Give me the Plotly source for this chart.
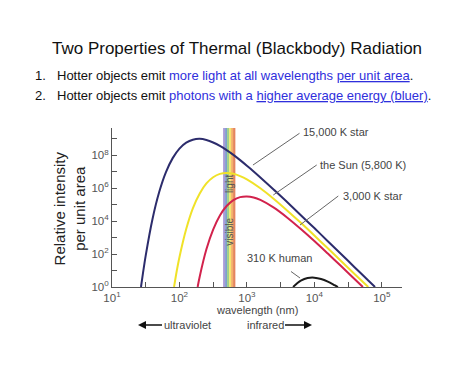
import plotly.graph_objects as go

# ---------------- data ----------------
# wavelengths in nm, intensities as log10(relative intensity)
wl_15000 = [26.9, 28.8, 31.6, 39.8, 50.1, 63.1, 79.4, 100, 126, 158, 200, 251, 316, 398,
            501, 631, 794, 1000, 1259, 1585, 2512, 3981, 6310, 10000, 15849, 25119,
            39811, 63096, 79433]
li_15000 = [0.0, 0.84, 1.91, 4.12, 5.77, 6.98, 7.83, 8.41, 8.77, 8.95, 9.00, 8.93, 8.78, 8.575,
            8.32, 8.03, 7.71, 7.37, 7.02, 6.66, 5.91, 5.15, 4.36, 3.58, 2.78, 1.99,
            1.19, 0.40, 0.0]

wl_5800 = [83.2, 91.2, 100, 126, 158, 200, 251, 316, 398, 501, 631, 794, 1000, 1585,
           2512, 3981, 6310, 10000, 15849, 25119, 39811, 63096]
li_5800 = [0.0, 0.97, 1.81, 3.52, 4.78, 5.68, 6.29, 6.67, 6.875, 6.93, 6.88, 6.74, 6.54, 6.00,
           5.35, 4.64, 3.90, 3.13, 2.35, 1.56, 0.77, 0.0]

wl_3000 = [186.2, 200, 251, 316, 398, 501, 631, 794, 1000, 1259, 1585, 2512, 3981, 6310,
           10000, 15849, 25119, 39811, 52481]
li_3000 = [0.0, 0.64, 2.29, 3.49, 4.35, 4.92, 5.28, 5.46, 5.50, 5.44, 5.29, 4.82, 4.21, 3.52,
           2.79, 2.03, 1.26, 0.47, 0.0]

wl_310 = [4842, 5623, 6310, 7943, 10000, 12589, 15849, 19953, 22387]
li_310 = [0.0, 0.245, 0.386, 0.544, 0.568, 0.49, 0.332, 0.114, 0.0]

# visible band stripes (nm edges) and colours
visible_edges = [444, 475, 508, 545, 583, 624, 675]
visible_colors = ["#ab9bd8", "#7f9ecd", "#9fd089", "#f3e56e", "#f3b06a", "#e5855d"]

x_tick_vals = [10, 100, 1000, 10000, 100000]
x_tick_text = ["10<sup>1</sup>", "10<sup>2</sup>", "10<sup>3</sup>", "10<sup>4</sup>", "10<sup>5</sup>"]
x_minor_vals = [31.62, 316.2, 3162, 31623]
y_tick_vals = [1, 1e2, 1e4, 1e6, 1e8]
y_tick_text = ["10<sup>0</sup>", "10<sup>2</sup>", "10<sup>4</sup>", "10<sup>6</sup>", "10<sup>8</sup>"]
y_minor_vals = [1e1, 1e3, 1e5, 1e7, 1e9]

series = [
    ("15,000 K star", wl_15000, li_15000, "#2c2c6c"),
    ("the Sun (5,800 K)", wl_5800, li_5800, "#f0e228"),
    ("3,000 K star", wl_3000, li_3000, "#d2224c"),
    ("310 K human", wl_310, li_310, "#1a1a1a"),
]

FONT = "Liberation Sans, Arial, Helvetica, sans-serif"
BLUE = "#2f2fdc"

fig = go.Figure()
for name, wl, li, col in series:
    fig.add_trace(go.Scatter(
        x=wl, y=[10 ** v for v in li], mode="lines", name=name,
        line=dict(color=col, width=2, shape="spline", smoothing=0.8),
        hoverinfo="skip", showlegend=False))

shapes = []
for i, col in enumerate(visible_colors):
    shapes.append(dict(type="rect", xref="x", yref="paper",
                       x0=visible_edges[i], x1=visible_edges[i + 1], y0=0, y1=1,
                       fillcolor=col, line=dict(width=0), layer="below"))

# leader lines (paper coords)
leaders = [
    (0.486, 0.767, 0.6466, 0.9667),
    (0.5562, 0.5786, 0.7059, 0.7673),
    (0.6483, 0.3899, 0.7803, 0.5723),
    (0.6172, 0.0975, 0.6483, 0.0566),
]
for x0, y0, x1, y1 in leaders:
    shapes.append(dict(type="line", xref="paper", yref="paper", x0=x0, y0=y0, x1=x1, y1=y1,
                       line=dict(color="#666666", width=1)))

ann = []
ann.append(dict(text="Two Properties of Thermal (Blackbody) Radiation", xref="paper", yref="paper",
                x=0.431, y=1.503, showarrow=False, font=dict(size=17, color="#111111"),
                xanchor="center", yanchor="middle"))
ann.append(dict(text="1.", xref="paper", yref="paper", x=-0.272, y=1.333, showarrow=False,
                font=dict(size=13, color="#111111"), xanchor="left", yanchor="middle"))
ann.append(dict(text="Hotter objects emit <span style='color:%s'>more light at all wavelengths</span> "
                     "<span style='color:%s'><u>per unit area</u></span>." % (BLUE, BLUE),
                xref="paper", yref="paper", x=-0.197, y=1.333, showarrow=False,
                font=dict(size=13, color="#111111"), xanchor="left", yanchor="middle"))
ann.append(dict(text="2.", xref="paper", yref="paper", x=-0.272, y=1.2075, showarrow=False,
                font=dict(size=13, color="#111111"), xanchor="left", yanchor="middle"))
ann.append(dict(text="Hotter objects emit <span style='color:%s'>photons with a</span> "
                     "<span style='color:%s'><u>higher average energy (bluer)</u></span>." % (BLUE, BLUE),
                xref="paper", yref="paper", x=-0.197, y=1.2075, showarrow=False,
                font=dict(size=13, color="#111111"), xanchor="left", yanchor="middle"))
ann.append(dict(text="Relative intensity<br>per unit area", xref="paper", yref="paper",
                x=-0.145, y=0.494, showarrow=False, textangle=-90,
                font=dict(size=15, color="#222222"), xanchor="center", yanchor="middle"))
ann.append(dict(text="wavelength (nm)", xref="paper", yref="paper", x=0.5, y=-0.145,
                showarrow=False, font=dict(size=11, color="#444444"), xanchor="center", yanchor="middle"))
ann.append(dict(text="ultraviolet", xref="paper", yref="paper", x=0.0897, y=-0.239,
                ax=49, ay=0, axref="pixel", ayref="pixel", showarrow=True, arrowhead=2,
                arrowsize=1, arrowwidth=1.6, arrowcolor="#111111", standoff=0,
                font=dict(size=11, color="#444444")))
ann.append(dict(text="infrared", xref="paper", yref="paper", x=0.6897, y=-0.239,
                ax=-47, ay=0, axref="pixel", ayref="pixel", showarrow=True, arrowhead=2,
                arrowsize=1, arrowwidth=1.6, arrowcolor="#111111", standoff=0,
                font=dict(size=11, color="#444444")))
labels = [
    ("15,000 K star", 0.652, 0.975),
    ("the Sun (5,800 K)", 0.710, 0.767),
    ("3,000 K star", 0.790, 0.572),
    ("310 K human", 0.459, 0.182),
]
for t, x, y in labels:
    ann.append(dict(text=t, xref="paper", yref="paper", x=x, y=y, showarrow=False,
                    font=dict(size=11, color="#444444"), xanchor="left", yanchor="middle"))
ann.append(dict(text="light", xref="paper", yref="paper", x=0.405, y=0.65, showarrow=False,
                textangle=-90, font=dict(size=10, color="#555555")))
ann.append(dict(text="visible", xref="paper", yref="paper", x=0.405, y=0.25, showarrow=False,
                textangle=-90, font=dict(size=10, color="#555555")))

fig.update_layout(
    width=474, height=365,
    margin=dict(l=112, r=72, t=128, b=78, pad=0),
    paper_bgcolor="white", plot_bgcolor="white",
    font=dict(family=FONT, size=11, color="#444444"),
    shapes=shapes, annotations=ann,
    xaxis=dict(type="log", range=[1, 5.3], showgrid=False, zeroline=False,
               showline=True, linecolor="#555555", linewidth=1,
               tickmode="array", tickvals=x_tick_vals, ticktext=x_tick_text,
               ticks="inside", ticklen=5, tickcolor="#555555",
               minor=dict(tickvals=x_minor_vals, ticks="inside", ticklen=5, tickcolor="#555555"),
               tickfont=dict(size=11.5, color="#555555")),
    yaxis=dict(type="log", range=[0, 9.66], showgrid=False, zeroline=False,
               showline=True, linecolor="#555555", linewidth=1,
               tickmode="array", tickvals=y_tick_vals, ticktext=y_tick_text,
               ticks="inside", ticklen=5, tickcolor="#555555",
               minor=dict(tickvals=y_minor_vals, ticks="inside", ticklen=5, tickcolor="#555555"),
               tickfont=dict(size=11.5, color="#555555")),
)

fig.write_html("out.html", config={"displayModeBar": False},
               post_script="document.body.style.margin='0';")
